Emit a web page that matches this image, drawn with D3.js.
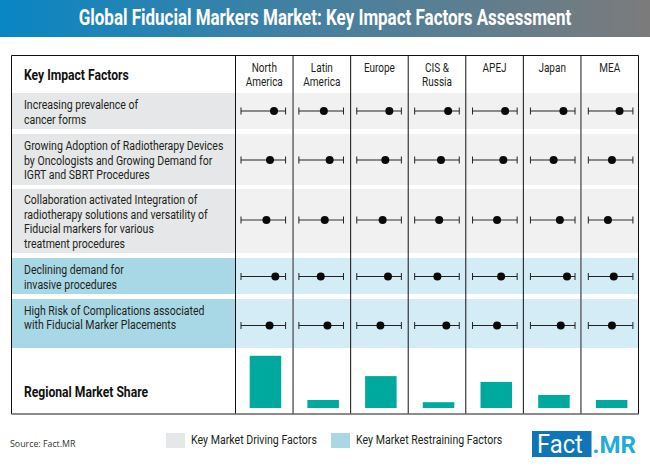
<!DOCTYPE html>
<html>
<head>
<meta charset="utf-8">
<script src="https://cdn.jsdelivr.net/npm/d3@7"></script>
<style>
  html, body { margin: 0; padding: 0; background: #fff; }
  svg { display: block; }
  text { font-family: Roboto, sans-serif; }
</style>
</head>
<body>
<svg width="650" height="467"></svg>
<script>
var title = "Global Fiducial Markers Market: Key Impact Factors Assessment";

var regions = ["North America", "Latin America", "Europe", "CIS & Russia", "APEJ", "Japan", "MEA"];
var regionLabels = [["North", "America"], ["Latin", "America"], ["Europe"], ["CIS &", "Russia"], ["APEJ"], ["Japan"], ["MEA"]];

var factorLabels = [
  ["Increasing prevalence of", "cancer forms"],
  ["Growing Adoption of Radiotherapy Devices", "by Oncologists and Growing Demand for", "IGRT and SBRT Procedures"],
  ["Collaboration activated Integration of", "radiotherapy solutions and versatility of", "Fiducial markers for various", "treatment procedures"],
  ["Declining demand for", "invasive procedures"],
  ["High Risk of Complications associated", "with Fiducial Marker Placements"]
];
var factorTypes = ["driving", "driving", "driving", "restraining", "restraining"];

var increasingPrevalence = [74, 56, 73, 75, 73, 74, 70];
var growingAdoption = [65, 69, 64, 59, 69, 52, 53];
var collaboration = [57, 58, 58, 55, 55, 66, 44];
var decliningDemand = [77, 49, 70, 51, 64, 82, 57];
var highRisk = [64, 64, 53, 71, 55, 68, 53];
var impactValues = [increasingPrevalence, growingAdoption, collaboration, decliningDemand, highRisk];

var marketShare = [36, 5.5, 22, 4, 18, 9, 5.5];

var legendLabels = ["Key Market Driving Factors", "Key Market Restraining Factors"];

var svg = d3.select("svg");

var margin = {left: 11.5, right: 638.5, top: 55.5, bottom: 414};
var labelRight = 235.5;

var fills = {
  driving: {label: "#e6e7e8", cell: "#f1f1f2"},
  restraining: {label: "#a8d8e6", cell: "#d4ecf6"}
};

// horizontally squeezed text, no condensed face is installed
var addText = function(x, y, str, size, weight, fill, squeeze, anchor) {
  return svg.append("text")
    .attr("transform", "translate(" + x + "," + y + ") scale(" + squeeze + ",1)")
    .attr("text-anchor", anchor || "start")
    .attr("font-size", size)
    .attr("font-weight", weight)
    .attr("fill", fill)
    .text(str);
};

// header strip
var grad = svg.append("defs").append("linearGradient").attr("id", "head");
grad.append("stop").attr("offset", "0%").attr("stop-color", "#0a86c4");
grad.append("stop").attr("offset", "50%").attr("stop-color", "#47809f");
grad.append("stop").attr("offset", "100%").attr("stop-color", "#7b7b7b");
svg.append("rect").attr("x", 0).attr("y", 0).attr("width", 650).attr("height", 37).attr("fill", "url(#head)");
addText(325, 25, title, 21.5, 700, "#fff", 0.79, "middle");

var x = d3.scaleBand().domain(regions).range([labelRight, margin.right]);
var whiskerX = d3.scaleBand().domain(regions).range([241, 646.2]);
var barX = d3.scaleBand().domain(regions).range([249.7, 653.6]);

// row bands
var rowTop = [93, 134, 189, 258, 299];
var rowBottom = [129, 185, 253, 294, 348];
var lineStart = [109, 150, 204, 274, 314.5];
var whiskerY = [111, 160, 220, 276.5, 325.5];
var whiskerColor = ["#222", "#666", "#333", "#222", "#222"];
var whiskerWidth = [1, 1.6, 1.2, 1, 1];

factorLabels.forEach(function(lines, i) {
  var c = fills[factorTypes[i]];
  svg.append("rect").attr("x", margin.left).attr("y", rowTop[i])
    .attr("width", labelRight - margin.left).attr("height", rowBottom[i] - rowTop[i]).attr("fill", c.label);
  svg.append("rect").attr("x", labelRight).attr("y", rowTop[i])
    .attr("width", margin.right - labelRight).attr("height", rowBottom[i] - rowTop[i]).attr("fill", c.cell);
  lines.forEach(function(line, j) {
    addText(24, lineStart[i] + j * 14.6, line, 13, 400, "#231f20", 0.81);
  });
});

addText(24, 80, "Key Impact Factors", 15, 700, "#111", 0.81);
addText(24, 396.5, "Regional Market Share", 15, 700, "#111", 0.81);

regionLabels.forEach(function(lines, i) {
  lines.forEach(function(line, j) {
    addText(x(regions[i]) + x.bandwidth() / 2, 71.5 + j * 14.6, line, 12.5, 400, "#231f20", 0.8, "middle");
  });
});

// whiskers and dots
impactValues.forEach(function(values, i) {
  values.forEach(function(v, j) {
    var left = whiskerX(regions[j]);
    var scale = d3.scaleLinear().domain([0, 100]).range([left, left + 44.6]);
    var y = whiskerY[i];
    var g = svg.append("g");
    g.append("line").attr("x1", scale(0)).attr("x2", scale(100)).attr("y1", y).attr("y2", y)
      .attr("stroke", whiskerColor[i]).attr("stroke-width", whiskerWidth[i]);
    [0, 100].forEach(function(t) {
      g.append("line").attr("x1", scale(t)).attr("x2", scale(t)).attr("y1", y - 3.5).attr("y2", y + 3.5)
        .attr("stroke", "#222").attr("stroke-width", 1);
    });
    g.append("circle").attr("cx", scale(v)).attr("cy", y).attr("r", 4).attr("fill", "#0a0a0a");
  });
});

// market share bars
var shareY = d3.scaleLinear().domain([0, 100]).range([408, 263]);
svg.selectAll(".share")
  .data(marketShare).enter()
  .append("rect")
  .attr("class", "share")
  .attr("x", function(d, i) { return barX(regions[i]); })
  .attr("y", function(d) { return shareY(d); })
  .attr("width", 31.5)
  .attr("height", function(d) { return shareY(0) - shareY(d); })
  .attr("fill", "#00a99d");

// table frame and dividers
var greyLines = [1, 6];
regions.forEach(function(r, i) {
  var grey = greyLines.indexOf(i) >= 0;
  svg.append("line").attr("x1", x(r)).attr("x2", x(r)).attr("y1", margin.top).attr("y2", margin.bottom)
    .attr("stroke", grey ? "#6d6e71" : "#111").attr("stroke-width", grey ? 1.6 : 1);
});
svg.append("line").attr("x1", margin.left).attr("x2", margin.right).attr("y1", margin.top).attr("y2", margin.top)
  .attr("stroke", "#111").attr("stroke-width", 1);
svg.append("line").attr("x1", margin.left).attr("x2", margin.left).attr("y1", margin.top).attr("y2", margin.bottom)
  .attr("stroke", "#111").attr("stroke-width", 1);
svg.append("line").attr("x1", margin.right).attr("x2", margin.right).attr("y1", margin.top).attr("y2", margin.bottom)
  .attr("stroke", "#111").attr("stroke-width", 1);
svg.append("line").attr("x1", margin.left).attr("x2", margin.right).attr("y1", margin.bottom).attr("y2", margin.bottom)
  .attr("stroke", "#666").attr("stroke-width", 1.5);

// footer
addText(10, 446.5, "Source: Fact.MR", 9.5, 400, "#333", 0.93).style("font-family", "'Open Sans', sans-serif");

svg.append("rect").attr("x", 166).attr("y", 433).attr("width", 19).attr("height", 15).attr("fill", fills.driving.label);
addText(191, 443.5, legendLabels[0], 13, 400, "#231f20", 0.815);
svg.append("rect").attr("x", 331).attr("y", 433).attr("width", 19).attr("height", 15).attr("fill", fills.restraining.label);
addText(356, 443.5, legendLabels[1], 13, 400, "#231f20", 0.815);

// logo
svg.append("rect").attr("x", 532).attr("y", 431).attr("width", 59.5).attr("height", 26).attr("fill", "#0e76b8");
addText(537, 453, "Fact", 25, 400, "#fff", 0.95);
addText(592.5, 453, ".MR", 24.5, 700, "#22abd9", 0.98);
</script>
</body>
</html>
